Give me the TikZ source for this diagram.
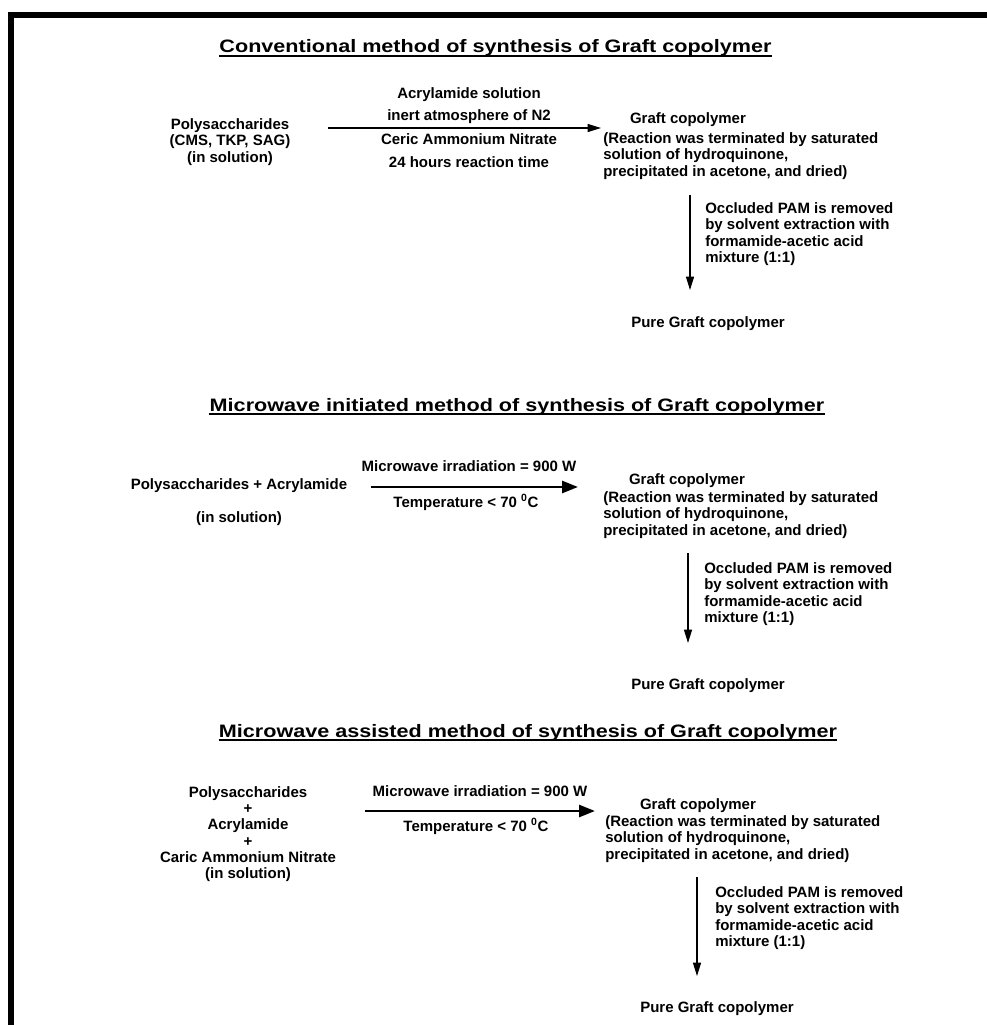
\documentclass[tikz,border=0pt]{standalone}
\usepackage{fontspec}
\setmainfont{Liberation Sans}
\newfontfamily\titlefam[FakeStretch=1.2]{Liberation Sans}
\usetikzlibrary{arrows.meta}
\newcommand\bodyfont{\fontsize{11.25pt}{12.2pt}\selectfont\bfseries}
\newcommand\ttlfont{\titlefam\fontsize{13.5pt}{16pt}\selectfont\bfseries}
\begin{document}
\begin{tikzpicture}[x=0.75pt,y=-0.75pt,
  txt/.style={font=\bodyfont, inner sep=0pt, anchor=base},
  blk/.style={font=\bodyfont, inner sep=0pt, align=left, anchor=west},
  cblk/.style={font=\bodyfont, inner sep=0pt, align=center},
  ttl/.style={font=\ttlfont, inner sep=0pt, anchor=base},
  uline/.style={line width=1.5pt},
  frame/.style={line width=4.5pt},
  thinh/.style={line width=0.9pt, -{Triangle[length=10pt,width=6pt]}},
  thickh/.style={line width=2pt, -{Triangle[length=12pt,width=9pt]}},
  vert/.style={line width=0.9pt, -{Triangle[length=10pt,width=6pt]}}]
\useasboundingbox (0,0) rectangle (987,1025);
\draw[frame] (11,1025) -- (11,15) -- (987,15);

% ---------- Section 1 ----------
\node[ttl] (t1) at (495.5,52.5) {Conventional method of synthesis of Graft copolymer};
\draw[uline] ([yshift=-2.6pt]t1.base west) -- ([yshift=-2.6pt]t1.base east);
\node[cblk] (L1) at (230,142) {Polysaccharides\\(CMS, TKP, SAG)\\(in solution)};
\coordinate (h1s) at (328,128);
\coordinate (h1e) at (601,128);
\draw[thinh] (h1s) -- (h1e);
\node[txt] (a1a) at (469,98) {Acrylamide solution};
\node[txt] (a1b) at (469,120) {inert atmosphere of N2};
\node[txt] (a1c) at (469,144) {Ceric Ammonium Nitrate};
\node[txt] (a1d) at (469,167) {24 hours reaction time};
\node[txt] (g1) at (688,123) {Graft copolymer};
\node[blk] (r1) at (603,156) {(Reaction was terminated by saturated\\solution of hydroquinone,\\precipitated in acetone, and dried)};
\coordinate (v1s) at (690,195);
\coordinate (v1e) at (690,290);
\draw[vert] (v1s) -- (v1e);
\node[blk] (o1) at (705,234) {Occluded PAM is removed\\by solvent extraction with\\formamide-acetic acid\\mixture (1:1)};
\node[txt] (p1) at (708,327) {Pure Graft copolymer};

% ---------- Section 2 ----------
\node[ttl] (t2) at (517,411) {Microwave initiated method of synthesis of Graft copolymer};
\draw[uline] ([yshift=-2.6pt]t2.base west) -- ([yshift=-2.6pt]t2.base east);
\node[txt] (L2a) at (239,489) {Polysaccharides + Acrylamide};
\node[txt] (L2b) at (239,522) {(in solution)};
\coordinate (h2s) at (371,487);
\coordinate (h2e) at (578,487);
\draw[thickh] (h2s) -- (h2e);
\node[txt] (a2a) at (469,471) {Microwave irradiation = 900 W};
\node[txt] (a2b) at (466,507) {Temperature < 70 \textsuperscript{0}C};
\node[txt] (g2) at (687,484) {Graft copolymer};
\node[blk] (r2) at (603,515) {(Reaction was terminated by saturated\\solution of hydroquinone,\\precipitated in acetone, and dried)};
\coordinate (v2s) at (688,553);
\coordinate (v2e) at (688,643);
\draw[vert] (v2s) -- (v2e);
\node[blk] (o2) at (704,594) {Occluded PAM is removed\\by solvent extraction with\\formamide-acetic acid\\mixture (1:1)};
\node[txt] (p2) at (708,689) {Pure Graft copolymer};

% ---------- Section 3 ----------
\node[ttl] (t3) at (528,737) {Microwave assisted method of synthesis of Graft copolymer};
\draw[uline] ([yshift=-2.6pt]t3.base west) -- ([yshift=-2.6pt]t3.base east);
\node[cblk] (L3) at (248,834) {Polysaccharides\\+\\Acrylamide\\+\\Caric Ammonium Nitrate\\(in solution)};
\coordinate (h3s) at (365,811);
\coordinate (h3e) at (595,811);
\draw[thickh] (h3s) -- (h3e);
\node[txt] (a3a) at (480,796) {Microwave irradiation = 900 W};
\node[txt] (a3b) at (476,831) {Temperature < 70 \textsuperscript{0}C};
\node[txt] (g3) at (698,809) {Graft copolymer};
\node[blk] (r3) at (605,839) {(Reaction was terminated by saturated\\solution of hydroquinone,\\precipitated in acetone, and dried)};
\coordinate (v3s) at (697,877);
\coordinate (v3e) at (697,976);
\draw[vert] (v3s) -- (v3e);
\node[blk] (o3) at (715,918) {Occluded PAM is removed\\by solvent extraction with\\formamide-acetic acid\\mixture (1:1)};
\node[txt] (p3) at (717,1012) {Pure Graft copolymer};
\end{tikzpicture}
\end{document}
